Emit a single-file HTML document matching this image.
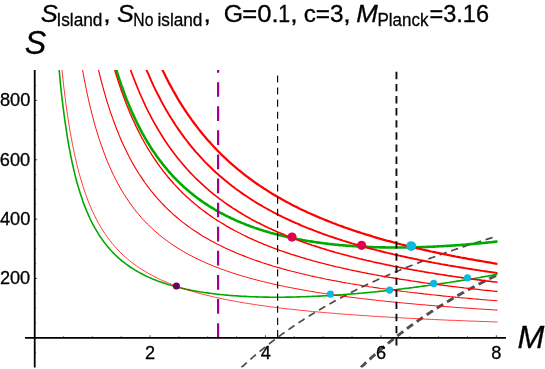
<!DOCTYPE html>
<html><head><meta charset="utf-8"><title>plot</title>
<style>
html,body{margin:0;padding:0;background:#fff;}
body{width:545px;height:369px;overflow:hidden;position:relative;font-family:"Liberation Sans",sans-serif;}
</style></head><body>
<svg width="545" height="369" viewBox="0 0 545 369" style="position:absolute;left:0;top:0">
<defs><clipPath id="cp"><rect x="24.95" y="70.00" width="481.00" height="297.60"/></clipPath></defs>
<g clip-path="url(#cp)" fill="none" stroke-linejoin="round">
<path d="M241.4 367.5 L242.3 366.7 L243.1 366.0 L244.0 365.2 L244.8 364.4 L245.6 363.6 L246.5 362.9 L247.3 362.1 L248.2 361.4 L249.0 360.6 L249.9 359.9 L250.7 359.1 L251.6 358.4 L252.4 357.6 L253.2 356.9 L254.1 356.2 L254.9 355.5 L255.8 354.7 L256.6 354.0 L257.5 353.3 L258.3 352.6 L259.2 351.9 L260.0 351.2 L260.9 350.5 L261.7 349.8 L262.5 349.1 L263.4 348.5 L264.2 347.8 L265.1 347.1 L265.9 346.4 L266.8 345.7 L267.6 345.1 L268.5 344.4 L269.3 343.8 L270.1 343.1 L271.0 342.4 L271.8 341.8 L272.7 341.1 L273.5 340.5 L274.4 339.9 L275.2 339.2 L276.1 338.6 L276.9 338.0 L277.7 337.3 L278.6 336.7 L279.4 336.1 L280.3 335.5 L281.1 334.9 L282.0 334.2 L282.8 333.6 L283.7 333.0 L284.5 332.4 L285.4 331.8 L286.2 331.2 L287.0 330.6 L287.9 330.0 L288.7 329.5 L289.6 328.9 L290.4 328.3 L291.3 327.7 L292.1 327.1 L293.0 326.6 L293.8 326.0 L294.6 325.4 L295.5 324.8 L296.3 324.3 L297.2 323.7 L298.0 323.2 L298.9 322.6 L299.7 322.0 L300.6 321.5 L301.4 320.9 L302.2 320.4 L303.1 319.9 L303.9 319.3 L304.8 318.8 L305.6 318.2 L306.5 317.7 L307.3 317.2 L308.2 316.6 L309.0 316.1 L309.8 315.6 L310.7 315.1 L311.5 314.5 L312.4 314.0 L313.2 313.5 L314.1 313.0 L314.9 312.5 L315.8 312.0 L316.6 311.5 L317.5 311.0 L318.3 310.5 L319.1 310.0 L320.0 309.5 L320.8 309.0 L321.7 308.5 L322.5 308.0 L323.4 307.5 L324.2 307.0 L325.1 306.5 L325.9 306.0 L326.7 305.5 L327.6 305.1 L328.4 304.6 L329.3 304.1 L330.1 303.6 L331.0 303.2 L331.8 302.7 L332.7 302.2 L333.5 301.8 L334.3 301.3 L335.2 300.8 L336.0 300.4 L336.9 299.9 L337.7 299.5 L338.6 299.0 L339.4 298.5 L340.3 298.1 L341.1 297.6 L342.0 297.2 L342.8 296.7 L343.6 296.3 L344.5 295.9 L345.3 295.4 L346.2 295.0 L347.0 294.5 L347.9 294.1 L348.7 293.7 L349.6 293.2 L350.4 292.8 L351.2 292.4 L352.1 291.9 L352.9 291.5 L353.8 291.1 L354.6 290.7 L355.5 290.3 L356.3 289.8 L357.2 289.4 L358.0 289.0 L358.8 288.6 L359.7 288.2 L360.5 287.8 L361.4 287.3 L362.2 286.9 L363.1 286.5 L363.9 286.1 L364.8 285.7 L365.6 285.3 L366.5 284.9 L367.3 284.5 L368.1 284.1 L369.0 283.7 L369.8 283.3 L370.7 282.9 L371.5 282.5 L372.4 282.1 L373.2 281.8 L374.1 281.4 L374.9 281.0 L375.7 280.6 L376.6 280.2 L377.4 279.8 L378.3 279.4 L379.1 279.1 L380.0 278.7 L380.8 278.3 L381.7 277.9 L382.5 277.6 L383.3 277.2 L384.2 276.8 L385.0 276.4 L385.9 276.1 L386.7 275.7 L387.6 275.3 L388.4 275.0 L389.3 274.6 L390.1 274.2 L391.0 273.9 L391.8 273.5 L392.6 273.1 L393.5 272.8 L394.3 272.4 L395.2 272.1 L396.0 271.7 L396.9 271.4 L397.7 271.0 L398.6 270.7 L399.4 270.3 L400.2 270.0 L401.1 269.6 L401.9 269.3 L402.8 268.9 L403.6 268.6 L404.5 268.2 L405.3 267.9 L406.2 267.5 L407.0 267.2 L407.8 266.9 L408.7 266.5 L409.5 266.2 L410.4 265.9 L411.2 265.5 L412.1 265.2 L412.9 264.9 L413.8 264.5 L414.6 264.2 L415.5 263.9 L416.3 263.5 L417.1 263.2 L418.0 262.9 L418.8 262.6 L419.7 262.2 L420.5 261.9 L421.4 261.6 L422.2 261.3 L423.1 260.9 L423.9 260.6 L424.7 260.3 L425.6 260.0 L426.4 259.7 L427.3 259.4 L428.1 259.0 L429.0 258.7 L429.8 258.4 L430.7 258.1 L431.5 257.8 L432.3 257.5 L433.2 257.2 L434.0 256.9 L434.9 256.6 L435.7 256.2 L436.6 255.9 L437.4 255.6 L438.3 255.3 L439.1 255.0 L440.0 254.7 L440.8 254.4 L441.6 254.1 L442.5 253.8 L443.3 253.5 L444.2 253.2 L445.0 252.9 L445.9 252.6 L446.7 252.4 L447.6 252.1 L448.4 251.8 L449.2 251.5 L450.1 251.2 L450.9 250.9 L451.8 250.6 L452.6 250.3 L453.5 250.0 L454.3 249.7 L455.2 249.5 L456.0 249.2 L456.8 248.9 L457.7 248.6 L458.5 248.3 L459.4 248.0 L460.2 247.8 L461.1 247.5 L461.9 247.2 L462.8 246.9 L463.6 246.6 L464.5 246.4 L465.3 246.1 L466.1 245.8 L467.0 245.5 L467.8 245.3 L468.7 245.0 L469.5 244.7 L470.4 244.4 L471.2 244.2 L472.1 243.9 L472.9 243.6 L473.7 243.4 L474.6 243.1 L475.4 242.8 L476.3 242.6 L477.1 242.3 L478.0 242.0 L478.8 241.8 L479.7 241.5 L480.5 241.2 L481.3 241.0 L482.2 240.7 L483.0 240.5 L483.9 240.2 L484.7 239.9 L485.6 239.7 L486.4 239.4 L487.3 239.2 L488.1 238.9 L489.0 238.7 L489.8 238.4 L490.6 238.1 L491.5 237.9 L492.3 237.6 L493.2 237.4 L494.0 237.1" stroke="#4a4a4a" stroke-width="1.70" stroke-dasharray="7.3 4.8" stroke-dashoffset="0"/>
<path d="M360.8 367.5 L361.3 367.1 L361.7 366.7 L362.2 366.2 L362.6 365.8 L363.1 365.3 L363.6 364.9 L364.0 364.5 L364.5 364.1 L364.9 363.6 L365.4 363.2 L365.8 362.8 L366.3 362.3 L366.8 361.9 L367.2 361.5 L367.7 361.1 L368.1 360.6 L368.6 360.2 L369.0 359.8 L369.5 359.4 L370.0 359.0 L370.4 358.6 L370.9 358.1 L371.3 357.7 L371.8 357.3 L372.2 356.9 L372.7 356.5 L373.2 356.1 L373.6 355.7 L374.1 355.3 L374.5 354.9 L375.0 354.5 L375.4 354.1 L375.9 353.7 L376.4 353.3 L376.8 352.9 L377.3 352.5 L377.7 352.1 L378.2 351.7 L378.6 351.3 L379.1 350.9 L379.6 350.5 L380.0 350.1 L380.5 349.7 L380.9 349.3 L381.4 348.9 L381.8 348.5 L382.3 348.1 L382.8 347.7 L383.2 347.4 L383.7 347.0 L384.1 346.6 L384.6 346.2 L385.0 345.8 L385.5 345.5 L386.0 345.1 L386.4 344.7 L386.9 344.3 L387.3 343.9 L387.8 343.6 L388.2 343.2 L388.7 342.8 L389.2 342.4 L389.6 342.1 L390.1 341.7 L390.5 341.3 L391.0 341.0 L391.4 340.6 L391.9 340.2 L392.4 339.9 L392.8 339.5 L393.3 339.1 L393.7 338.8 L394.2 338.4 L394.6 338.0 L395.1 337.7 L395.6 337.3 L396.0 337.0 L396.5 336.6 L396.9 336.2 L397.4 335.9 L397.8 335.5 L398.3 335.2 L398.8 334.8 L399.2 334.5 L399.7 334.1 L400.1 333.8 L400.6 333.4 L401.0 333.1 L401.5 332.7 L402.0 332.4 L402.4 332.0 L402.9 331.7 L403.3 331.3 L403.8 331.0 L404.2 330.7 L404.7 330.3 L405.2 330.0 L405.6 329.6 L406.1 329.3 L406.5 329.0 L407.0 328.6 L407.4 328.3 L407.9 327.9 L408.3 327.6 L408.8 327.3 L409.3 326.9 L409.7 326.6 L410.2 326.3 L410.6 325.9 L411.1 325.6 L411.5 325.3 L412.0 325.0 L412.5 324.6 L412.9 324.3 L413.4 324.0 L413.8 323.6 L414.3 323.3 L414.7 323.0 L415.2 322.7 L415.7 322.3 L416.1 322.0 L416.6 321.7 L417.0 321.4 L417.5 321.1 L417.9 320.7 L418.4 320.4 L418.9 320.1 L419.3 319.8 L419.8 319.5 L420.2 319.2 L420.7 318.9 L421.1 318.5 L421.6 318.2 L422.1 317.9 L422.5 317.6 L423.0 317.3 L423.4 317.0 L423.9 316.7 L424.3 316.4 L424.8 316.1 L425.3 315.7 L425.7 315.4 L426.2 315.1 L426.6 314.8 L427.1 314.5 L427.5 314.2 L428.0 313.9 L428.5 313.6 L428.9 313.3 L429.4 313.0 L429.8 312.7 L430.3 312.4 L430.7 312.1 L431.2 311.8 L431.7 311.5 L432.1 311.2 L432.6 310.9 L433.0 310.6 L433.5 310.3 L433.9 310.0 L434.4 309.8 L434.9 309.5 L435.3 309.2 L435.8 308.9 L436.2 308.6 L436.7 308.3 L437.1 308.0 L437.6 307.7 L438.1 307.4 L438.5 307.1 L439.0 306.9 L439.4 306.6 L439.9 306.3 L440.3 306.0 L440.8 305.7 L441.3 305.4 L441.7 305.2 L442.2 304.9 L442.6 304.6 L443.1 304.3 L443.5 304.0 L444.0 303.7 L444.5 303.5 L444.9 303.2 L445.4 302.9 L445.8 302.6 L446.3 302.4 L446.7 302.1 L447.2 301.8 L447.7 301.5 L448.1 301.3 L448.6 301.0 L449.0 300.7 L449.5 300.4 L449.9 300.2 L450.4 299.9 L450.9 299.6 L451.3 299.4 L451.8 299.1 L452.2 298.8 L452.7 298.6 L453.1 298.3 L453.6 298.0 L454.1 297.8 L454.5 297.5 L455.0 297.2 L455.4 297.0 L455.9 296.7 L456.3 296.4 L456.8 296.2 L457.3 295.9 L457.7 295.6 L458.2 295.4 L458.6 295.1 L459.1 294.9 L459.5 294.6 L460.0 294.3 L460.5 294.1 L460.9 293.8 L461.4 293.6 L461.8 293.3 L462.3 293.1 L462.7 292.8 L463.2 292.5 L463.7 292.3 L464.1 292.0 L464.6 291.8 L465.0 291.5 L465.5 291.3 L465.9 291.0 L466.4 290.8 L466.9 290.5 L467.3 290.3 L467.8 290.0 L468.2 289.8 L468.7 289.5 L469.1 289.3 L469.6 289.0 L470.1 288.8 L470.5 288.5 L471.0 288.3 L471.4 288.0 L471.9 287.8 L472.3 287.6 L472.8 287.3 L473.3 287.1 L473.7 286.8 L474.2 286.6 L474.6 286.3 L475.1 286.1 L475.5 285.9 L476.0 285.6 L476.5 285.4 L476.9 285.1 L477.4 284.9 L477.8 284.7 L478.3 284.4 L478.7 284.2 L479.2 284.0 L479.7 283.7 L480.1 283.5 L480.6 283.2 L481.0 283.0 L481.5 282.8 L481.9 282.5 L482.4 282.3 L482.9 282.1 L483.3 281.8 L483.8 281.6 L484.2 281.4 L484.7 281.1 L485.1 280.9 L485.6 280.7 L486.1 280.5 L486.5 280.2 L487.0 280.0 L487.4 279.8 L487.9 279.5 L488.3 279.3 L488.8 279.1 L489.3 278.9 L489.7 278.6 L490.2 278.4 L490.6 278.2 L491.1 278.0 L491.5 277.7 L492.0 277.5 L492.5 277.3 L492.9 277.1 L493.4 276.8 L493.8 276.6 L494.3 276.4 L494.7 276.2 L495.2 276.0 L495.7 275.7 L496.1 275.5 L496.6 275.3 L497.0 275.1 L497.5 274.9" stroke="#505050" stroke-width="2.90" stroke-dasharray="7.5 4.6" stroke-dashoffset="0"/>
<path d="M54.7 11.3 L56.2 33.6 L57.7 53.1 L59.2 70.2 L60.6 85.4 L62.1 99.0 L63.6 111.1 L65.1 122.1 L66.6 132.1 L68.0 141.1 L69.5 149.4 L71.0 157.1 L72.5 164.1 L74.0 170.6 L75.4 176.6 L76.9 182.2 L78.4 187.4 L79.9 192.3 L81.4 196.8 L82.8 201.1 L84.3 205.1 L85.8 208.9 L87.3 212.5 L88.8 215.9 L90.2 219.0 L91.7 222.1 L93.2 224.9 L94.7 227.7 L96.2 230.2 L97.7 232.7 L99.1 235.1 L100.6 237.3 L102.1 239.4 L103.6 241.5 L105.1 243.4 L106.5 245.3 L108.0 247.1 L109.5 248.8 L111.0 250.5 L112.5 252.0 L113.9 253.6 L115.4 255.0 L116.9 256.4 L118.4 257.8 L119.9 259.1 L121.3 260.3 L122.8 261.6 L124.3 262.7 L125.8 263.9 L127.3 264.9 L128.8 266.0 L130.2 267.0 L131.7 268.0 L133.2 268.9 L134.7 269.9 L136.2 270.8 L137.6 271.6 L139.1 272.4 L140.6 273.3 L142.1 274.0 L143.6 274.8 L145.0 275.5 L146.5 276.2 L148.0 276.9 L149.5 277.6 L151.0 278.2 L152.4 278.9 L153.9 279.5 L155.4 280.1 L156.9 280.7 L158.4 281.2 L159.8 281.8 L161.3 282.3 L162.8 282.8 L164.3 283.3 L165.8 283.8 L167.3 284.2 L168.7 284.7 L170.2 285.1 L171.7 285.6 L173.2 286.0 L174.7 286.4 L176.1 286.8 L177.6 287.2 L179.1 287.5 L180.6 287.9 L182.1 288.3 L183.5 288.6 L185.0 288.9 L186.5 289.3 L188.0 289.6 L189.5 289.9 L190.9 290.2 L192.4 290.5 L193.9 290.7 L195.4 291.0 L196.9 291.3 L198.4 291.5 L199.8 291.8 L201.3 292.0 L202.8 292.2 L204.3 292.5 L205.8 292.7 L207.2 292.9 L208.7 293.1 L210.2 293.3 L211.7 293.5 L213.2 293.7 L214.6 293.9 L216.1 294.0 L217.6 294.2 L219.1 294.4 L220.6 294.5 L222.0 294.7 L223.5 294.8 L225.0 295.0 L226.5 295.1 L228.0 295.2 L229.4 295.4 L230.9 295.5 L232.4 295.6 L233.9 295.7 L235.4 295.8 L236.9 295.9 L238.3 296.0 L239.8 296.1 L241.3 296.2 L242.8 296.3 L244.3 296.4 L245.7 296.4 L247.2 296.5 L248.7 296.6 L250.2 296.7 L251.7 296.7 L253.1 296.8 L254.6 296.8 L256.1 296.9 L257.6 296.9 L259.1 297.0 L260.5 297.0 L262.0 297.0 L263.5 297.1 L265.0 297.1 L266.5 297.1 L268.0 297.1 L269.4 297.2 L270.9 297.2 L272.4 297.2 L273.9 297.2 L275.4 297.2 L276.8 297.2 L278.3 297.2 L279.8 297.2 L281.3 297.2 L282.8 297.2 L284.2 297.2 L285.7 297.1 L287.2 297.1 L288.7 297.1 L290.2 297.1 L291.6 297.1 L293.1 297.0 L294.6 297.0 L296.1 297.0 L297.6 296.9 L299.0 296.9 L300.5 296.8 L302.0 296.8 L303.5 296.8 L305.0 296.7 L306.5 296.6 L307.9 296.6 L309.4 296.5 L310.9 296.5 L312.4 296.4 L313.9 296.3 L315.3 296.3 L316.8 296.2 L318.3 296.1 L319.8 296.1 L321.3 296.0 L322.7 295.9 L324.2 295.8 L325.7 295.8 L327.2 295.7 L328.7 295.6 L330.1 295.5 L331.6 295.4 L333.1 295.3 L334.6 295.2 L336.1 295.1 L337.6 295.0 L339.0 294.9 L340.5 294.8 L342.0 294.7 L343.5 294.6 L345.0 294.5 L346.4 294.4 L347.9 294.3 L349.4 294.1 L350.9 294.0 L352.4 293.9 L353.8 293.8 L355.3 293.7 L356.8 293.5 L358.3 293.4 L359.8 293.3 L361.2 293.2 L362.7 293.0 L364.2 292.9 L365.7 292.8 L367.2 292.6 L368.7 292.5 L370.1 292.3 L371.6 292.2 L373.1 292.0 L374.6 291.9 L376.1 291.7 L377.5 291.6 L379.0 291.4 L380.5 291.3 L382.0 291.1 L383.5 291.0 L384.9 290.8 L386.4 290.7 L387.9 290.5 L389.4 290.3 L390.9 290.2 L392.3 290.0 L393.8 289.8 L395.3 289.7 L396.8 289.5 L398.3 289.3 L399.7 289.1 L401.2 289.0 L402.7 288.8 L404.2 288.6 L405.7 288.4 L407.2 288.2 L408.6 288.1 L410.1 287.9 L411.6 287.7 L413.1 287.5 L414.6 287.3 L416.0 287.1 L417.5 286.9 L419.0 286.7 L420.5 286.5 L422.0 286.3 L423.4 286.1 L424.9 285.9 L426.4 285.7 L427.9 285.5 L429.4 285.3 L430.8 285.1 L432.3 284.9 L433.8 284.7 L435.3 284.5 L436.8 284.3 L438.3 284.0 L439.7 283.8 L441.2 283.6 L442.7 283.4 L444.2 283.2 L445.7 282.9 L447.1 282.7 L448.6 282.5 L450.1 282.3 L451.6 282.0 L453.1 281.8 L454.5 281.6 L456.0 281.4 L457.5 281.1 L459.0 280.9 L460.5 280.7 L461.9 280.4 L463.4 280.2 L464.9 279.9 L466.4 279.7 L467.9 279.4 L469.3 279.2 L470.8 279.0 L472.3 278.7 L473.8 278.5 L475.3 278.2 L476.8 278.0 L478.2 277.7 L479.7 277.5 L481.2 277.2 L482.7 276.9 L484.2 276.7 L485.6 276.4 L487.1 276.2 L488.6 275.9 L490.1 275.6 L491.6 275.4 L493.0 275.1 L494.5 274.8 L496.0 274.6 L497.5 274.3" stroke="#00aa00" stroke-width="1.60"/>
<path d="M101.3 10.3 L102.6 16.7 L103.9 22.7 L105.2 28.6 L106.6 34.2 L107.9 39.6 L109.2 44.9 L110.5 49.9 L111.9 54.8 L113.2 59.5 L114.5 64.0 L115.8 68.4 L117.2 72.7 L118.5 76.8 L119.8 80.7 L121.1 84.6 L122.5 88.3 L123.8 92.0 L125.1 95.5 L126.4 98.9 L127.8 102.2 L129.1 105.4 L130.4 108.6 L131.7 111.6 L133.1 114.6 L134.4 117.4 L135.7 120.2 L137.0 122.9 L138.4 125.6 L139.7 128.2 L141.0 130.7 L142.3 133.1 L143.7 135.5 L145.0 137.9 L146.3 140.1 L147.6 142.3 L149.0 144.5 L150.3 146.6 L151.6 148.7 L152.9 150.7 L154.3 152.6 L155.6 154.6 L156.9 156.4 L158.2 158.3 L159.6 160.1 L160.9 161.8 L162.2 163.5 L163.5 165.2 L164.9 166.8 L166.2 168.4 L167.5 170.0 L168.8 171.5 L170.2 173.0 L171.5 174.5 L172.8 176.0 L174.1 177.4 L175.5 178.7 L176.8 180.1 L178.1 181.4 L179.4 182.7 L180.8 184.0 L182.1 185.2 L183.4 186.5 L184.7 187.7 L186.1 188.8 L187.4 190.0 L188.7 191.1 L190.0 192.2 L191.4 193.3 L192.7 194.4 L194.0 195.4 L195.3 196.5 L196.7 197.5 L198.0 198.5 L199.3 199.4 L200.6 200.4 L202.0 201.3 L203.3 202.2 L204.6 203.2 L206.0 204.0 L207.3 204.9 L208.6 205.8 L209.9 206.6 L211.3 207.4 L212.6 208.2 L213.9 209.0 L215.2 209.8 L216.6 210.6 L217.9 211.3 L219.2 212.1 L220.5 212.8 L221.9 213.5 L223.2 214.2 L224.5 214.9 L225.8 215.6 L227.2 216.2 L228.5 216.9 L229.8 217.5 L231.1 218.2 L232.5 218.8 L233.8 219.4 L235.1 220.0 L236.4 220.6 L237.8 221.2 L239.1 221.8 L240.4 222.3 L241.7 222.9 L243.1 223.4 L244.4 223.9 L245.7 224.5 L247.0 225.0 L248.4 225.5 L249.7 226.0 L251.0 226.5 L252.3 226.9 L253.7 227.4 L255.0 227.9 L256.3 228.3 L257.6 228.8 L259.0 229.2 L260.3 229.7 L261.6 230.1 L262.9 230.5 L264.3 230.9 L265.6 231.3 L266.9 231.7 L268.2 232.1 L269.6 232.5 L270.9 232.9 L272.2 233.2 L273.5 233.6 L274.9 233.9 L276.2 234.3 L277.5 234.6 L278.8 235.0 L280.2 235.3 L281.5 235.6 L282.8 235.9 L284.1 236.3 L285.5 236.6 L286.8 236.9 L288.1 237.2 L289.4 237.5 L290.8 237.7 L292.1 238.0 L293.4 238.3 L294.7 238.6 L296.1 238.8 L297.4 239.1 L298.7 239.4 L300.0 239.6 L301.4 239.8 L302.7 240.1 L304.0 240.3 L305.3 240.6 L306.7 240.8 L308.0 241.0 L309.3 241.2 L310.6 241.4 L312.0 241.6 L313.3 241.8 L314.6 242.0 L315.9 242.2 L317.3 242.4 L318.6 242.6 L319.9 242.8 L321.2 243.0 L322.6 243.1 L323.9 243.3 L325.2 243.5 L326.5 243.6 L327.9 243.8 L329.2 244.0 L330.5 244.1 L331.8 244.3 L333.2 244.4 L334.5 244.5 L335.8 244.7 L337.1 244.8 L338.5 244.9 L339.8 245.1 L341.1 245.2 L342.4 245.3 L343.8 245.4 L345.1 245.5 L346.4 245.6 L347.7 245.7 L349.1 245.8 L350.4 245.9 L351.7 246.0 L353.0 246.1 L354.4 246.2 L355.7 246.3 L357.0 246.4 L358.3 246.5 L359.7 246.5 L361.0 246.6 L362.3 246.7 L363.6 246.8 L365.0 246.8 L366.3 246.9 L367.6 246.9 L368.9 247.0 L370.3 247.0 L371.6 247.1 L372.9 247.1 L374.2 247.2 L375.6 247.2 L376.9 247.3 L378.2 247.3 L379.5 247.3 L380.9 247.4 L382.2 247.4 L383.5 247.4 L384.8 247.4 L386.2 247.5 L387.5 247.5 L388.8 247.5 L390.1 247.5 L391.5 247.5 L392.8 247.5 L394.1 247.5 L395.4 247.5 L396.8 247.5 L398.1 247.5 L399.4 247.5 L400.7 247.5 L402.1 247.5 L403.4 247.5 L404.7 247.5 L406.0 247.5 L407.4 247.4 L408.7 247.4 L410.0 247.4 L411.3 247.4 L412.7 247.3 L414.0 247.3 L415.3 247.3 L416.6 247.3 L418.0 247.2 L419.3 247.2 L420.6 247.1 L422.0 247.1 L423.3 247.0 L424.6 247.0 L425.9 247.0 L427.3 246.9 L428.6 246.8 L429.9 246.8 L431.2 246.7 L432.6 246.7 L433.9 246.6 L435.2 246.5 L436.5 246.5 L437.9 246.4 L439.2 246.3 L440.5 246.3 L441.8 246.2 L443.2 246.1 L444.5 246.0 L445.8 246.0 L447.1 245.9 L448.5 245.8 L449.8 245.7 L451.1 245.6 L452.4 245.5 L453.8 245.5 L455.1 245.4 L456.4 245.3 L457.7 245.2 L459.1 245.1 L460.4 245.0 L461.7 244.9 L463.0 244.8 L464.4 244.7 L465.7 244.6 L467.0 244.4 L468.3 244.3 L469.7 244.2 L471.0 244.1 L472.3 244.0 L473.6 243.9 L475.0 243.8 L476.3 243.6 L477.6 243.5 L478.9 243.4 L480.3 243.3 L481.6 243.1 L482.9 243.0 L484.2 242.9 L485.6 242.7 L486.9 242.6 L488.2 242.5 L489.5 242.3 L490.9 242.2 L492.2 242.1 L493.5 241.9 L494.8 241.8 L496.2 241.6 L497.5 241.5" stroke="#00aa00" stroke-width="2.60"/>
<path d="M59.3 41.1 L61.5 65.3 L63.7 86.0 L65.9 103.7 L68.1 119.1 L70.3 132.5 L72.5 144.5 L74.7 155.1 L76.9 164.6 L79.1 173.2 L81.3 180.9 L83.5 188.0 L85.7 194.4 L87.9 200.4 L90.1 205.8 L92.3 210.9 L94.5 215.5 L96.7 219.9 L98.9 223.9 L101.1 227.7 L103.3 231.2 L105.5 234.5 L107.7 237.6 L109.9 240.5 L112.1 243.3 L114.3 245.9 L116.5 248.4 L118.7 250.7 L120.9 252.9 L123.1 255.1 L125.3 257.1 L127.5 259.0 L129.7 260.8 L131.9 262.5 L134.1 264.2 L136.3 265.8 L138.5 267.3 L140.8 268.8 L143.0 270.2 L145.2 271.5 L147.4 272.8 L149.6 274.1 L151.8 275.3 L154.0 276.4 L156.2 277.5 L158.4 278.6 L160.6 279.7 L162.8 280.7 L165.0 281.6 L167.2 282.6 L169.4 283.5 L171.6 284.3 L173.8 285.2 L176.0 286.0 L178.2 286.8 L180.4 287.6 L182.6 288.3 L184.8 289.0 L187.0 289.7 L189.2 290.4 L191.4 291.1 L193.6 291.7 L195.8 292.4 L198.0 293.0 L200.2 293.6 L202.4 294.2 L204.6 294.7 L206.8 295.3 L209.0 295.8 L211.2 296.3 L213.4 296.9 L215.6 297.4 L217.8 297.8 L220.0 298.3 L222.2 298.8 L224.4 299.2 L226.6 299.7 L228.8 300.1 L231.0 300.5 L233.2 300.9 L235.4 301.3 L237.6 301.7 L239.8 302.1 L242.0 302.5 L244.2 302.9 L246.4 303.2 L248.7 303.6 L250.9 303.9 L253.1 304.3 L255.3 304.6 L257.5 305.0 L259.7 305.3 L261.9 305.6 L264.1 305.9 L266.3 306.2 L268.5 306.5 L270.7 306.8 L272.9 307.1 L275.1 307.4 L277.3 307.6 L279.5 307.9 L281.7 308.2 L283.9 308.4 L286.1 308.7 L288.3 309.0 L290.5 309.2 L292.7 309.4 L294.9 309.7 L297.1 309.9 L299.3 310.2 L301.5 310.4 L303.7 310.6 L305.9 310.8 L308.1 311.0 L310.3 311.3 L312.5 311.5 L314.7 311.7 L316.9 311.9 L319.1 312.1 L321.3 312.3 L323.5 312.5 L325.7 312.7 L327.9 312.9 L330.1 313.0 L332.3 313.2 L334.5 313.4 L336.7 313.6 L338.9 313.8 L341.1 313.9 L343.3 314.1 L345.5 314.3 L347.7 314.4 L349.9 314.6 L352.1 314.8 L354.4 314.9 L356.6 315.1 L358.8 315.2 L361.0 315.4 L363.2 315.5 L365.4 315.7 L367.6 315.8 L369.8 316.0 L372.0 316.1 L374.2 316.3 L376.4 316.4 L378.6 316.5 L380.8 316.7 L383.0 316.8 L385.2 316.9 L387.4 317.1 L389.6 317.2 L391.8 317.3 L394.0 317.4 L396.2 317.6 L398.4 317.7 L400.6 317.8 L402.8 317.9 L405.0 318.1 L407.2 318.2 L409.4 318.3 L411.6 318.4 L413.8 318.5 L416.0 318.6 L418.2 318.7 L420.4 318.8 L422.6 319.0 L424.8 319.1 L427.0 319.2 L429.2 319.3 L431.4 319.4 L433.6 319.5 L435.8 319.6 L438.0 319.7 L440.2 319.8 L442.4 319.9 L444.6 320.0 L446.8 320.1 L449.0 320.2 L451.2 320.3 L453.4 320.3 L455.6 320.4 L457.8 320.5 L460.0 320.6 L462.3 320.7 L464.5 320.8 L466.7 320.9 L468.9 321.0 L471.1 321.1 L473.3 321.1 L475.5 321.2 L477.7 321.3 L479.9 321.4 L482.1 321.5 L484.3 321.5 L486.5 321.6 L488.7 321.7 L490.9 321.8 L493.1 321.9 L495.3 321.9 L497.5 322.0" stroke="#ff0000" stroke-width="0.75"/>
<path d="M77.9 41.1 L80.0 54.8 L82.1 67.4 L84.2 78.9 L86.3 89.4 L88.4 99.2 L90.5 108.2 L92.6 116.5 L94.7 124.3 L96.8 131.5 L98.9 138.3 L101.1 144.6 L103.2 150.5 L105.3 156.1 L107.4 161.4 L109.5 166.4 L111.6 171.0 L113.7 175.5 L115.8 179.7 L117.9 183.7 L120.0 187.5 L122.1 191.1 L124.3 194.6 L126.4 197.9 L128.5 201.0 L130.6 204.0 L132.7 206.9 L134.8 209.7 L136.9 212.3 L139.0 214.8 L141.1 217.3 L143.2 219.6 L145.3 221.9 L147.4 224.0 L149.6 226.1 L151.7 228.1 L153.8 230.1 L155.9 231.9 L158.0 233.7 L160.1 235.5 L162.2 237.2 L164.3 238.8 L166.4 240.4 L168.5 241.9 L170.6 243.4 L172.7 244.9 L174.9 246.3 L177.0 247.6 L179.1 248.9 L181.2 250.2 L183.3 251.5 L185.4 252.7 L187.5 253.8 L189.6 255.0 L191.7 256.1 L193.8 257.2 L195.9 258.2 L198.1 259.3 L200.2 260.3 L202.3 261.2 L204.4 262.2 L206.5 263.1 L208.6 264.0 L210.7 264.9 L212.8 265.8 L214.9 266.6 L217.0 267.4 L219.1 268.2 L221.2 269.0 L223.4 269.8 L225.5 270.5 L227.6 271.3 L229.7 272.0 L231.8 272.7 L233.9 273.4 L236.0 274.1 L238.1 274.7 L240.2 275.4 L242.3 276.0 L244.4 276.6 L246.6 277.2 L248.7 277.8 L250.8 278.4 L252.9 279.0 L255.0 279.6 L257.1 280.1 L259.2 280.7 L261.3 281.2 L263.4 281.7 L265.5 282.2 L267.6 282.7 L269.7 283.2 L271.9 283.7 L274.0 284.2 L276.1 284.6 L278.2 285.1 L280.3 285.6 L282.4 286.0 L284.5 286.4 L286.6 286.9 L288.7 287.3 L290.8 287.7 L292.9 288.1 L295.1 288.5 L297.2 288.9 L299.3 289.3 L301.4 289.7 L303.5 290.1 L305.6 290.4 L307.7 290.8 L309.8 291.2 L311.9 291.5 L314.0 291.9 L316.1 292.2 L318.2 292.6 L320.4 292.9 L322.5 293.2 L324.6 293.5 L326.7 293.9 L328.8 294.2 L330.9 294.5 L333.0 294.8 L335.1 295.1 L337.2 295.4 L339.3 295.7 L341.4 296.0 L343.6 296.3 L345.7 296.5 L347.8 296.8 L349.9 297.1 L352.0 297.4 L354.1 297.6 L356.2 297.9 L358.3 298.2 L360.4 298.4 L362.5 298.7 L364.6 298.9 L366.7 299.2 L368.9 299.4 L371.0 299.7 L373.1 299.9 L375.2 300.1 L377.3 300.4 L379.4 300.6 L381.5 300.8 L383.6 301.0 L385.7 301.3 L387.8 301.5 L389.9 301.7 L392.1 301.9 L394.2 302.1 L396.3 302.3 L398.4 302.5 L400.5 302.7 L402.6 302.9 L404.7 303.1 L406.8 303.3 L408.9 303.5 L411.0 303.7 L413.1 303.9 L415.2 304.1 L417.4 304.3 L419.5 304.5 L421.6 304.7 L423.7 304.8 L425.8 305.0 L427.9 305.2 L430.0 305.4 L432.1 305.5 L434.2 305.7 L436.3 305.9 L438.4 306.0 L440.6 306.2 L442.7 306.4 L444.8 306.5 L446.9 306.7 L449.0 306.8 L451.1 307.0 L453.2 307.2 L455.3 307.3 L457.4 307.5 L459.5 307.6 L461.6 307.8 L463.7 307.9 L465.9 308.1 L468.0 308.2 L470.1 308.3 L472.2 308.5 L474.3 308.6 L476.4 308.8 L478.5 308.9 L480.6 309.0 L482.7 309.2 L484.8 309.3 L486.9 309.4 L489.0 309.6 L491.2 309.7 L493.3 309.8 L495.4 310.0 L497.5 310.1" stroke="#ff0000" stroke-width="0.95"/>
<path d="M92.3 41.1 L94.3 51.2 L96.4 60.6 L98.4 69.5 L100.4 77.8 L102.5 85.6 L104.5 92.9 L106.5 99.8 L108.6 106.4 L110.6 112.6 L112.7 118.4 L114.7 124.0 L116.7 129.3 L118.8 134.4 L120.8 139.2 L122.8 143.8 L124.9 148.1 L126.9 152.3 L128.9 156.3 L131.0 160.2 L133.0 163.8 L135.0 167.4 L137.1 170.7 L139.1 174.0 L141.2 177.1 L143.2 180.1 L145.2 183.0 L147.3 185.8 L149.3 188.5 L151.3 191.1 L153.4 193.7 L155.4 196.1 L157.4 198.4 L159.5 200.7 L161.5 202.9 L163.6 205.0 L165.6 207.1 L167.6 209.1 L169.7 211.0 L171.7 212.9 L173.7 214.8 L175.8 216.5 L177.8 218.3 L179.8 219.9 L181.9 221.6 L183.9 223.1 L186.0 224.7 L188.0 226.2 L190.0 227.6 L192.1 229.1 L194.1 230.5 L196.1 231.8 L198.2 233.1 L200.2 234.4 L202.2 235.7 L204.3 236.9 L206.3 238.1 L208.4 239.3 L210.4 240.4 L212.4 241.5 L214.5 242.6 L216.5 243.7 L218.5 244.7 L220.6 245.7 L222.6 246.7 L224.6 247.7 L226.7 248.7 L228.7 249.6 L230.7 250.5 L232.8 251.4 L234.8 252.3 L236.9 253.2 L238.9 254.0 L240.9 254.8 L243.0 255.6 L245.0 256.4 L247.0 257.2 L249.1 258.0 L251.1 258.7 L253.1 259.5 L255.2 260.2 L257.2 260.9 L259.3 261.6 L261.3 262.3 L263.3 263.0 L265.4 263.6 L267.4 264.3 L269.4 264.9 L271.5 265.5 L273.5 266.2 L275.5 266.8 L277.6 267.4 L279.6 267.9 L281.7 268.5 L283.7 269.1 L285.7 269.6 L287.8 270.2 L289.8 270.7 L291.8 271.3 L293.9 271.8 L295.9 272.3 L297.9 272.8 L300.0 273.3 L302.0 273.8 L304.0 274.3 L306.1 274.8 L308.1 275.2 L310.2 275.7 L312.2 276.1 L314.2 276.6 L316.3 277.0 L318.3 277.5 L320.3 277.9 L322.4 278.3 L324.4 278.7 L326.4 279.2 L328.5 279.6 L330.5 280.0 L332.6 280.4 L334.6 280.7 L336.6 281.1 L338.7 281.5 L340.7 281.9 L342.7 282.3 L344.8 282.6 L346.8 283.0 L348.8 283.3 L350.9 283.7 L352.9 284.0 L355.0 284.4 L357.0 284.7 L359.0 285.0 L361.1 285.4 L363.1 285.7 L365.1 286.0 L367.2 286.3 L369.2 286.7 L371.2 287.0 L373.3 287.3 L375.3 287.6 L377.4 287.9 L379.4 288.2 L381.4 288.5 L383.5 288.7 L385.5 289.0 L387.5 289.3 L389.6 289.6 L391.6 289.9 L393.6 290.1 L395.7 290.4 L397.7 290.7 L399.7 290.9 L401.8 291.2 L403.8 291.5 L405.9 291.7 L407.9 292.0 L409.9 292.2 L412.0 292.5 L414.0 292.7 L416.0 292.9 L418.1 293.2 L420.1 293.4 L422.1 293.6 L424.2 293.9 L426.2 294.1 L428.3 294.3 L430.3 294.6 L432.3 294.8 L434.4 295.0 L436.4 295.2 L438.4 295.4 L440.5 295.6 L442.5 295.9 L444.5 296.1 L446.6 296.3 L448.6 296.5 L450.7 296.7 L452.7 296.9 L454.7 297.1 L456.8 297.3 L458.8 297.5 L460.8 297.7 L462.9 297.9 L464.9 298.0 L466.9 298.2 L469.0 298.4 L471.0 298.6 L473.1 298.8 L475.1 299.0 L477.1 299.1 L479.2 299.3 L481.2 299.5 L483.2 299.7 L485.3 299.8 L487.3 300.0 L489.3 300.2 L491.4 300.3 L493.4 300.5 L495.4 300.7 L497.5 300.8" stroke="#ff0000" stroke-width="1.15"/>
<path d="M106.9 41.0 L108.9 48.9 L110.8 56.3 L112.8 63.4 L114.7 70.1 L116.7 76.5 L118.7 82.6 L120.6 88.4 L122.6 94.0 L124.6 99.3 L126.5 104.4 L128.5 109.3 L130.4 114.0 L132.4 118.5 L134.4 122.8 L136.3 126.9 L138.3 130.9 L140.3 134.8 L142.2 138.5 L144.2 142.0 L146.1 145.5 L148.1 148.8 L150.1 152.0 L152.0 155.1 L154.0 158.1 L156.0 161.0 L157.9 163.8 L159.9 166.6 L161.9 169.2 L163.8 171.8 L165.8 174.2 L167.7 176.7 L169.7 179.0 L171.7 181.3 L173.6 183.5 L175.6 185.6 L177.6 187.7 L179.5 189.8 L181.5 191.7 L183.4 193.7 L185.4 195.5 L187.4 197.4 L189.3 199.1 L191.3 200.9 L193.3 202.6 L195.2 204.2 L197.2 205.8 L199.1 207.4 L201.1 209.0 L203.1 210.5 L205.0 211.9 L207.0 213.4 L209.0 214.8 L210.9 216.1 L212.9 217.5 L214.8 218.8 L216.8 220.1 L218.8 221.3 L220.7 222.5 L222.7 223.7 L224.7 224.9 L226.6 226.1 L228.6 227.2 L230.5 228.3 L232.5 229.4 L234.5 230.5 L236.4 231.5 L238.4 232.5 L240.4 233.5 L242.3 234.5 L244.3 235.5 L246.2 236.4 L248.2 237.4 L250.2 238.3 L252.1 239.2 L254.1 240.1 L256.1 240.9 L258.0 241.8 L260.0 242.6 L262.0 243.4 L263.9 244.3 L265.9 245.0 L267.8 245.8 L269.8 246.6 L271.8 247.4 L273.7 248.1 L275.7 248.8 L277.7 249.5 L279.6 250.3 L281.6 250.9 L283.5 251.6 L285.5 252.3 L287.5 253.0 L289.4 253.6 L291.4 254.3 L293.4 254.9 L295.3 255.5 L297.3 256.1 L299.2 256.7 L301.2 257.3 L303.2 257.9 L305.1 258.5 L307.1 259.1 L309.1 259.6 L311.0 260.2 L313.0 260.8 L314.9 261.3 L316.9 261.8 L318.9 262.3 L320.8 262.9 L322.8 263.4 L324.8 263.9 L326.7 264.4 L328.7 264.9 L330.6 265.4 L332.6 265.8 L334.6 266.3 L336.5 266.8 L338.5 267.2 L340.5 267.7 L342.4 268.1 L344.4 268.6 L346.4 269.0 L348.3 269.4 L350.3 269.9 L352.2 270.3 L354.2 270.7 L356.2 271.1 L358.1 271.5 L360.1 271.9 L362.1 272.3 L364.0 272.7 L366.0 273.1 L367.9 273.5 L369.9 273.8 L371.9 274.2 L373.8 274.6 L375.8 274.9 L377.8 275.3 L379.7 275.7 L381.7 276.0 L383.6 276.4 L385.6 276.7 L387.6 277.0 L389.5 277.4 L391.5 277.7 L393.5 278.0 L395.4 278.4 L397.4 278.7 L399.3 279.0 L401.3 279.3 L403.3 279.6 L405.2 279.9 L407.2 280.2 L409.2 280.5 L411.1 280.8 L413.1 281.1 L415.0 281.4 L417.0 281.7 L419.0 282.0 L420.9 282.3 L422.9 282.6 L424.9 282.9 L426.8 283.1 L428.8 283.4 L430.8 283.7 L432.7 283.9 L434.7 284.2 L436.6 284.5 L438.6 284.7 L440.6 285.0 L442.5 285.2 L444.5 285.5 L446.5 285.7 L448.4 286.0 L450.4 286.2 L452.3 286.5 L454.3 286.7 L456.3 286.9 L458.2 287.2 L460.2 287.4 L462.2 287.6 L464.1 287.9 L466.1 288.1 L468.0 288.3 L470.0 288.6 L472.0 288.8 L473.9 289.0 L475.9 289.2 L477.9 289.4 L479.8 289.6 L481.8 289.9 L483.7 290.1 L485.7 290.3 L487.7 290.5 L489.6 290.7 L491.6 290.9 L493.6 291.1 L495.5 291.3 L497.5 291.5" stroke="#ff0000" stroke-width="1.35"/>
<path d="M121.3 41.1 L123.2 47.4 L125.0 53.5 L126.9 59.3 L128.8 64.9 L130.7 70.2 L132.6 75.4 L134.5 80.4 L136.4 85.1 L138.3 89.7 L140.2 94.2 L142.1 98.5 L144.0 102.6 L145.8 106.6 L147.7 110.5 L149.6 114.2 L151.5 117.8 L153.4 121.3 L155.3 124.7 L157.2 128.0 L159.1 131.2 L161.0 134.3 L162.9 137.3 L164.7 140.2 L166.6 143.0 L168.5 145.8 L170.4 148.4 L172.3 151.0 L174.2 153.6 L176.1 156.0 L178.0 158.4 L179.9 160.8 L181.8 163.0 L183.7 165.3 L185.5 167.4 L187.4 169.5 L189.3 171.6 L191.2 173.6 L193.1 175.5 L195.0 177.5 L196.9 179.3 L198.8 181.2 L200.7 182.9 L202.6 184.7 L204.4 186.4 L206.3 188.0 L208.2 189.7 L210.1 191.3 L212.0 192.8 L213.9 194.4 L215.8 195.9 L217.7 197.3 L219.6 198.8 L221.5 200.2 L223.4 201.6 L225.2 202.9 L227.1 204.2 L229.0 205.5 L230.9 206.8 L232.8 208.1 L234.7 209.3 L236.6 210.5 L238.5 211.7 L240.4 212.8 L242.3 214.0 L244.2 215.1 L246.0 216.2 L247.9 217.3 L249.8 218.3 L251.7 219.4 L253.6 220.4 L255.5 221.4 L257.4 222.4 L259.3 223.3 L261.2 224.3 L263.1 225.2 L264.9 226.2 L266.8 227.1 L268.7 228.0 L270.6 228.8 L272.5 229.7 L274.4 230.6 L276.3 231.4 L278.2 232.2 L280.1 233.0 L282.0 233.8 L283.9 234.6 L285.7 235.4 L287.6 236.2 L289.5 236.9 L291.4 237.7 L293.3 238.4 L295.2 239.1 L297.1 239.8 L299.0 240.5 L300.9 241.2 L302.8 241.9 L304.6 242.6 L306.5 243.2 L308.4 243.9 L310.3 244.5 L312.2 245.2 L314.1 245.8 L316.0 246.4 L317.9 247.0 L319.8 247.6 L321.7 248.2 L323.6 248.8 L325.4 249.4 L327.3 250.0 L329.2 250.5 L331.1 251.1 L333.0 251.6 L334.9 252.2 L336.8 252.7 L338.7 253.2 L340.6 253.8 L342.5 254.3 L344.4 254.8 L346.2 255.3 L348.1 255.8 L350.0 256.3 L351.9 256.8 L353.8 257.2 L355.7 257.7 L357.6 258.2 L359.5 258.7 L361.4 259.1 L363.3 259.6 L365.1 260.0 L367.0 260.5 L368.9 260.9 L370.8 261.3 L372.7 261.8 L374.6 262.2 L376.5 262.6 L378.4 263.0 L380.3 263.4 L382.2 263.8 L384.1 264.2 L385.9 264.6 L387.8 265.0 L389.7 265.4 L391.6 265.8 L393.5 266.2 L395.4 266.5 L397.3 266.9 L399.2 267.3 L401.1 267.6 L403.0 268.0 L404.8 268.4 L406.7 268.7 L408.6 269.1 L410.5 269.4 L412.4 269.7 L414.3 270.1 L416.2 270.4 L418.1 270.8 L420.0 271.1 L421.9 271.4 L423.8 271.7 L425.6 272.1 L427.5 272.4 L429.4 272.7 L431.3 273.0 L433.2 273.3 L435.1 273.6 L437.0 273.9 L438.9 274.2 L440.8 274.5 L442.7 274.8 L444.5 275.1 L446.4 275.4 L448.3 275.7 L450.2 275.9 L452.1 276.2 L454.0 276.5 L455.9 276.8 L457.8 277.1 L459.7 277.3 L461.6 277.6 L463.5 277.9 L465.3 278.1 L467.2 278.4 L469.1 278.6 L471.0 278.9 L472.9 279.1 L474.8 279.4 L476.7 279.7 L478.6 279.9 L480.5 280.1 L482.4 280.4 L484.3 280.6 L486.1 280.9 L488.0 281.1 L489.9 281.3 L491.8 281.6 L493.7 281.8 L495.6 282.0 L497.5 282.3" stroke="#ff0000" stroke-width="1.65"/>
<path d="M135.6 41.0 L137.5 46.3 L139.3 51.4 L141.1 56.2 L142.9 61.0 L144.7 65.5 L146.5 70.0 L148.4 74.2 L150.2 78.4 L152.0 82.4 L153.8 86.3 L155.6 90.1 L157.5 93.7 L159.3 97.3 L161.1 100.8 L162.9 104.1 L164.7 107.4 L166.5 110.6 L168.4 113.7 L170.2 116.7 L172.0 119.6 L173.8 122.4 L175.6 125.2 L177.5 127.9 L179.3 130.6 L181.1 133.1 L182.9 135.6 L184.7 138.1 L186.6 140.5 L188.4 142.8 L190.2 145.1 L192.0 147.3 L193.8 149.5 L195.6 151.6 L197.5 153.7 L199.3 155.7 L201.1 157.7 L202.9 159.7 L204.7 161.6 L206.6 163.4 L208.4 165.3 L210.2 167.0 L212.0 168.8 L213.8 170.5 L215.6 172.2 L217.5 173.8 L219.3 175.5 L221.1 177.0 L222.9 178.6 L224.7 180.1 L226.6 181.6 L228.4 183.1 L230.2 184.5 L232.0 185.9 L233.8 187.3 L235.6 188.7 L237.5 190.0 L239.3 191.3 L241.1 192.6 L242.9 193.9 L244.7 195.1 L246.6 196.3 L248.4 197.5 L250.2 198.7 L252.0 199.9 L253.8 201.0 L255.6 202.2 L257.5 203.3 L259.3 204.4 L261.1 205.4 L262.9 206.5 L264.7 207.5 L266.6 208.5 L268.4 209.6 L270.2 210.5 L272.0 211.5 L273.8 212.5 L275.6 213.4 L277.5 214.4 L279.3 215.3 L281.1 216.2 L282.9 217.1 L284.7 217.9 L286.6 218.8 L288.4 219.7 L290.2 220.5 L292.0 221.3 L293.8 222.1 L295.7 223.0 L297.5 223.7 L299.3 224.5 L301.1 225.3 L302.9 226.1 L304.7 226.8 L306.6 227.6 L308.4 228.3 L310.2 229.0 L312.0 229.7 L313.8 230.4 L315.7 231.1 L317.5 231.8 L319.3 232.5 L321.1 233.2 L322.9 233.8 L324.7 234.5 L326.6 235.1 L328.4 235.8 L330.2 236.4 L332.0 237.0 L333.8 237.6 L335.7 238.2 L337.5 238.8 L339.3 239.4 L341.1 240.0 L342.9 240.6 L344.7 241.1 L346.6 241.7 L348.4 242.3 L350.2 242.8 L352.0 243.4 L353.8 243.9 L355.7 244.4 L357.5 245.0 L359.3 245.5 L361.1 246.0 L362.9 246.5 L364.7 247.0 L366.6 247.5 L368.4 248.0 L370.2 248.5 L372.0 249.0 L373.8 249.4 L375.7 249.9 L377.5 250.4 L379.3 250.8 L381.1 251.3 L382.9 251.7 L384.7 252.2 L386.6 252.6 L388.4 253.1 L390.2 253.5 L392.0 253.9 L393.8 254.4 L395.7 254.8 L397.5 255.2 L399.3 255.6 L401.1 256.0 L402.9 256.4 L404.7 256.8 L406.6 257.2 L408.4 257.6 L410.2 258.0 L412.0 258.4 L413.8 258.8 L415.7 259.1 L417.5 259.5 L419.3 259.9 L421.1 260.2 L422.9 260.6 L424.8 261.0 L426.6 261.3 L428.4 261.7 L430.2 262.0 L432.0 262.4 L433.8 262.7 L435.7 263.1 L437.5 263.4 L439.3 263.7 L441.1 264.1 L442.9 264.4 L444.8 264.7 L446.6 265.0 L448.4 265.4 L450.2 265.7 L452.0 266.0 L453.8 266.3 L455.7 266.6 L457.5 266.9 L459.3 267.2 L461.1 267.5 L462.9 267.8 L464.8 268.1 L466.6 268.4 L468.4 268.7 L470.2 269.0 L472.0 269.3 L473.8 269.6 L475.7 269.8 L477.5 270.1 L479.3 270.4 L481.1 270.7 L482.9 270.9 L484.8 271.2 L486.6 271.5 L488.4 271.8 L490.2 272.0 L492.0 272.3 L493.8 272.5 L495.7 272.8 L497.5 273.0" stroke="#ff0000" stroke-width="1.95"/>
<path d="M150.0 41.1 L151.8 45.5 L153.5 49.8 L155.2 53.9 L157.0 58.0 L158.7 61.9 L160.5 65.7 L162.2 69.5 L164.0 73.1 L165.7 76.6 L167.5 80.0 L169.2 83.4 L171.0 86.6 L172.7 89.8 L174.5 92.9 L176.2 95.9 L177.9 98.9 L179.7 101.8 L181.4 104.6 L183.2 107.3 L184.9 110.0 L186.7 112.6 L188.4 115.2 L190.2 117.7 L191.9 120.1 L193.7 122.5 L195.4 124.8 L197.2 127.1 L198.9 129.4 L200.6 131.5 L202.4 133.7 L204.1 135.8 L205.9 137.9 L207.6 139.9 L209.4 141.8 L211.1 143.8 L212.9 145.7 L214.6 147.6 L216.4 149.4 L218.1 151.2 L219.9 152.9 L221.6 154.7 L223.3 156.4 L225.1 158.0 L226.8 159.6 L228.6 161.3 L230.3 162.8 L232.1 164.4 L233.8 165.9 L235.6 167.4 L237.3 168.9 L239.1 170.3 L240.8 171.7 L242.6 173.1 L244.3 174.5 L246.0 175.8 L247.8 177.2 L249.5 178.5 L251.3 179.7 L253.0 181.0 L254.8 182.3 L256.5 183.5 L258.3 184.7 L260.0 185.9 L261.8 187.0 L263.5 188.2 L265.3 189.3 L267.0 190.4 L268.7 191.5 L270.5 192.6 L272.2 193.7 L274.0 194.7 L275.7 195.8 L277.5 196.8 L279.2 197.8 L281.0 198.8 L282.7 199.8 L284.5 200.7 L286.2 201.7 L288.0 202.6 L289.7 203.6 L291.4 204.5 L293.2 205.4 L294.9 206.3 L296.7 207.1 L298.4 208.0 L300.2 208.9 L301.9 209.7 L303.7 210.5 L305.4 211.3 L307.2 212.2 L308.9 213.0 L310.7 213.7 L312.4 214.5 L314.1 215.3 L315.9 216.1 L317.6 216.8 L319.4 217.6 L321.1 218.3 L322.9 219.0 L324.6 219.7 L326.4 220.4 L328.1 221.1 L329.9 221.8 L331.6 222.5 L333.4 223.2 L335.1 223.8 L336.8 224.5 L338.6 225.2 L340.3 225.8 L342.1 226.4 L343.8 227.1 L345.6 227.7 L347.3 228.3 L349.1 228.9 L350.8 229.5 L352.6 230.1 L354.3 230.7 L356.1 231.3 L357.8 231.8 L359.5 232.4 L361.3 233.0 L363.0 233.5 L364.8 234.1 L366.5 234.6 L368.3 235.2 L370.0 235.7 L371.8 236.2 L373.5 236.8 L375.3 237.3 L377.0 237.8 L378.7 238.3 L380.5 238.8 L382.2 239.3 L384.0 239.8 L385.7 240.3 L387.5 240.8 L389.2 241.2 L391.0 241.7 L392.7 242.2 L394.5 242.6 L396.2 243.1 L398.0 243.6 L399.7 244.0 L401.4 244.5 L403.2 244.9 L404.9 245.3 L406.7 245.8 L408.4 246.2 L410.2 246.6 L411.9 247.1 L413.7 247.5 L415.4 247.9 L417.2 248.3 L418.9 248.7 L420.7 249.1 L422.4 249.5 L424.1 249.9 L425.9 250.3 L427.6 250.7 L429.4 251.1 L431.1 251.5 L432.9 251.8 L434.6 252.2 L436.4 252.6 L438.1 252.9 L439.9 253.3 L441.6 253.7 L443.4 254.0 L445.1 254.4 L446.8 254.7 L448.6 255.1 L450.3 255.4 L452.1 255.8 L453.8 256.1 L455.6 256.5 L457.3 256.8 L459.1 257.1 L460.8 257.5 L462.6 257.8 L464.3 258.1 L466.1 258.4 L467.8 258.8 L469.5 259.1 L471.3 259.4 L473.0 259.7 L474.8 260.0 L476.5 260.3 L478.3 260.6 L480.0 260.9 L481.8 261.2 L483.5 261.5 L485.3 261.8 L487.0 262.1 L488.8 262.4 L490.5 262.7 L492.2 263.0 L494.0 263.3 L495.7 263.6 L497.5 263.8" stroke="#ff0000" stroke-width="2.25"/>
<path d="M218.10 337.85 L218.10 70.00" stroke="#a3008f" stroke-width="2.20" stroke-dasharray="14.7 9.4" stroke-dashoffset="0"/>
<path d="M277.60 337.00 L277.60 72.00" stroke="#150c15" stroke-width="1.20" stroke-dasharray="7.1 5.02" stroke-dashoffset="0"/>
<path d="M396.45 345.40 L396.45 70.00" stroke="#150c15" stroke-width="1.90" stroke-dasharray="7.4 4.7" stroke-dashoffset="0"/>
</g>
<g stroke="#000" fill="none">
<path d="M24.95 337.85 L505.95 337.85" stroke-width="1.60"/>
<path d="M34.72 70.00 L34.72 367.60" stroke-width="1.80"/>
<path d="M63.43 337.85 L63.43 336.35" stroke-width="0.70"/>
<path d="M92.29 337.85 L92.29 336.35" stroke-width="0.70"/>
<path d="M121.15 337.85 L121.15 336.35" stroke-width="0.70"/>
<path d="M150.01 337.85 L150.01 335.25" stroke-width="0.70"/>
<path d="M178.87 337.85 L178.87 336.35" stroke-width="0.70"/>
<path d="M207.73 337.85 L207.73 336.35" stroke-width="0.70"/>
<path d="M236.59 337.85 L236.59 336.35" stroke-width="0.70"/>
<path d="M265.45 337.85 L265.45 335.25" stroke-width="0.70"/>
<path d="M294.31 337.85 L294.31 336.35" stroke-width="0.70"/>
<path d="M323.17 337.85 L323.17 336.35" stroke-width="0.70"/>
<path d="M352.03 337.85 L352.03 336.35" stroke-width="0.70"/>
<path d="M380.89 337.85 L380.89 335.25" stroke-width="0.70"/>
<path d="M409.75 337.85 L409.75 336.35" stroke-width="0.70"/>
<path d="M438.61 337.85 L438.61 336.35" stroke-width="0.70"/>
<path d="M467.47 337.85 L467.47 336.35" stroke-width="0.70"/>
<path d="M496.33 337.85 L496.33 335.25" stroke-width="0.70"/>
<path d="M34.57 352.69 L36.07 352.69" stroke-width="0.70"/>
<path d="M34.57 323.01 L36.07 323.01" stroke-width="0.70"/>
<path d="M34.57 308.17 L36.07 308.17" stroke-width="0.70"/>
<path d="M34.57 293.33 L36.07 293.33" stroke-width="0.70"/>
<path d="M34.57 278.49 L37.17 278.49" stroke-width="0.70"/>
<path d="M34.57 263.65 L36.07 263.65" stroke-width="0.70"/>
<path d="M34.57 248.81 L36.07 248.81" stroke-width="0.70"/>
<path d="M34.57 233.97 L36.07 233.97" stroke-width="0.70"/>
<path d="M34.57 219.13 L37.17 219.13" stroke-width="0.70"/>
<path d="M34.57 204.29 L36.07 204.29" stroke-width="0.70"/>
<path d="M34.57 189.45 L36.07 189.45" stroke-width="0.70"/>
<path d="M34.57 174.61 L36.07 174.61" stroke-width="0.70"/>
<path d="M34.57 159.77 L37.17 159.77" stroke-width="0.70"/>
<path d="M34.57 144.93 L36.07 144.93" stroke-width="0.70"/>
<path d="M34.57 130.09 L36.07 130.09" stroke-width="0.70"/>
<path d="M34.57 115.25 L36.07 115.25" stroke-width="0.70"/>
<path d="M34.57 100.41 L37.17 100.41" stroke-width="0.70"/>
<path d="M34.57 85.57 L36.07 85.57" stroke-width="0.70"/>
</g>
<circle cx="176.40" cy="286.10" r="3.50" fill="#6a0060"/>
<circle cx="292.00" cy="237.10" r="4.60" fill="#e0004f"/>
<circle cx="361.60" cy="245.30" r="4.60" fill="#e0004f"/>
<circle cx="411.20" cy="246.10" r="4.95" fill="#0bb8de"/>
<circle cx="330.40" cy="294.20" r="3.60" fill="#0bb8de"/>
<circle cx="389.60" cy="290.10" r="3.60" fill="#0bb8de"/>
<circle cx="433.70" cy="283.40" r="3.60" fill="#0bb8de"/>
<circle cx="467.50" cy="277.80" r="3.60" fill="#0bb8de"/>
<g font-family="Liberation Sans, sans-serif" fill="#000" stroke="#000" stroke-width="0.3" style="will-change:transform">
<text transform="translate(40.64 21.60) scale(1.0505 1)" font-size="24.3" font-style="italic">S</text>
<text transform="translate(56.45 26.30) scale(0.9412 1)" font-size="18.3">Island</text>
<text transform="translate(103.22 21.60) scale(1.1000 1)" font-size="24.3">,</text>
<text transform="translate(117.07 21.60) scale(1.0442 1)" font-size="24.3" font-style="italic">S</text>
<text transform="translate(133.34 26.30) scale(0.8587 1)" font-size="18.3">No</text>
<text transform="translate(157.45 26.30) scale(0.9413 1)" font-size="18.3">island</text>
<text transform="translate(203.61 21.60) scale(1.1000 1)" font-size="24.3">,</text>
<text transform="translate(223.85 21.60) scale(1.0209 1)" font-size="24.3">G</text>
<text transform="translate(242.31 21.60) scale(1.0560 1)" font-size="24.3">=0.</text>
<text transform="translate(278.35 21.60) scale(0.8800 1)" font-size="24.3">1</text>
<text transform="translate(290.36 21.60) scale(1.1000 1)" font-size="24.3">,</text>
<text transform="translate(303.68 21.60) scale(1.0020 1)" font-size="24.3">c=3</text>
<text transform="translate(343.36 21.60) scale(1.1000 1)" font-size="24.3">,</text>
<text transform="translate(356.24 21.60) scale(1.0689 1)" font-size="24.3" font-style="italic">M</text>
<text transform="translate(377.55 26.30) scale(0.9268 1)" font-size="18.3">Planck</text>
<text transform="translate(429.48 21.60) scale(0.9694 1)" font-size="24.3">=3.16</text>
<text transform="translate(24.79 54.30) scale(0.9671 1)" font-size="33.3" font-style="italic">S</text>
<text transform="translate(517.53 348.00) scale(1.0077 1)" font-size="32.0" font-style="italic">M</text>
<text x="-0.07" y="106.20" font-size="18.2">800</text>
<text x="-0.15" y="165.60" font-size="18.2">600</text>
<text x="-0.06" y="225.00" font-size="18.2">400</text>
<text x="-0.11" y="284.40" font-size="18.2">200</text>
<text x="144.99" y="359.00" font-size="18.2">2</text>
<text x="260.75" y="359.00" font-size="18.2">4</text>
<text x="376.03" y="359.00" font-size="18.2">6</text>
<text x="491.25" y="359.00" font-size="18.2">8</text>
</g>
</svg>
</body></html>
